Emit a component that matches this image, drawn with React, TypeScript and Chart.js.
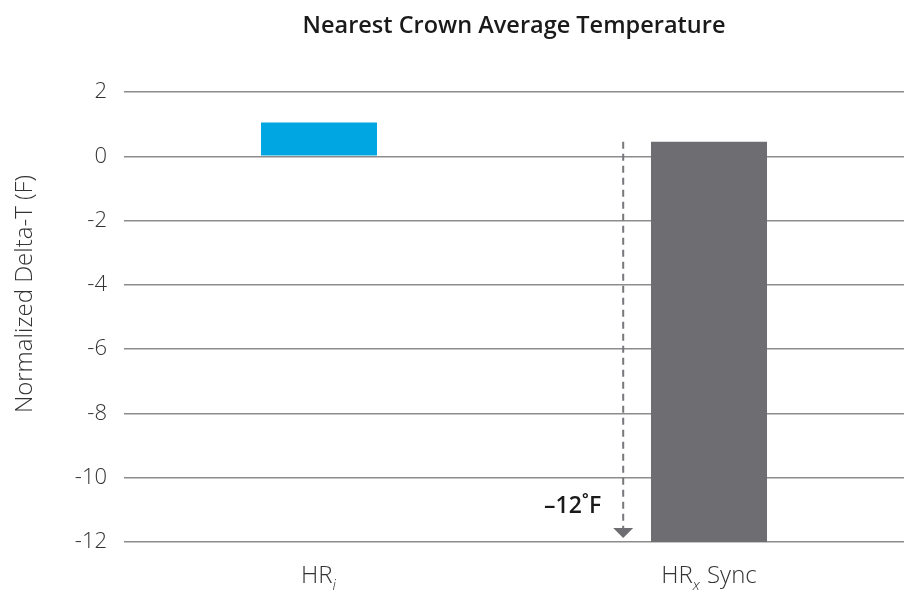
import React, { useEffect, useRef } from "react";
import { Chart, registerables } from "chart.js";

Chart.register(...registerables);

const titleText = "Nearest Crown Average Temperature";
const yAxisTitle = "Normalized Delta-T (F)";
const categoryBase = ["HR", "HR"];
const categorySub = ["i", "x"];
const categorySuffix = ["", " Sync"];
const barLow = [0, -12];
const barHigh = [1.05, 0.45];
const barColors = ["#00a6e2", "#6e6d72"];
const yMin = -12;
const yMax = 2;
const yStep = 2;
const arrowFrom = 0.45;
const arrowTo = -12;
const arrowCategoryPos = 0.78;
const arrowLabel = "\u201312\u02daF";
const arrowLabelValue = -10.9;

const FONT = "'Open Sans', 'Noto Sans', sans-serif";

export default function App() {
  const ref = useRef<HTMLCanvasElement | null>(null);

  useEffect(() => {
    document.body.style.margin = "0";
    const canvas = ref.current;
    if (!canvas) return;

    const overlay = {
      id: "overlay",
      afterDraw(chart: any) {
        const ctx = chart.ctx;
        const x = chart.scales.x;
        const y = chart.scales.y;
        const area = chart.chartArea;
        ctx.save();
        // title
        ctx.fillStyle = "#1a1a1a";
        ctx.font = `600 23.5px ${FONT}`;
        ctx.textAlign = "center";
        ctx.textBaseline = "middle";
        ctx.fillText(titleText, (area.left + area.right) / 2, 26);

        // y axis title
        ctx.save();
        ctx.translate(25, 294);
        ctx.rotate(-Math.PI / 2);
        ctx.fillStyle = "#333";
        ctx.font = `300 24px ${FONT}`;
        ctx.fillText(yAxisTitle, 0, 0);
        ctx.restore();

        // x labels with subscripts
        categoryBase.forEach((base, i) => {
          const cx = x.getPixelForValue(i);
          ctx.font = `300 24px ${FONT}`;
          const wBase = ctx.measureText(base).width;
          ctx.font = `italic 300 15px ${FONT}`;
          const wSub = ctx.measureText(categorySub[i]).width;
          ctx.font = `300 24px ${FONT}`;
          const wSuf = ctx.measureText(categorySuffix[i]).width;
          const total = wBase + wSub + 1 + wSuf;
          let sx = cx - total / 2;
          ctx.textAlign = "left";
          ctx.textBaseline = "alphabetic";
          ctx.fillStyle = "#333";
          ctx.font = `300 24px ${FONT}`;
          ctx.fillText(base, sx, 583);
          sx += wBase;
          ctx.font = `italic 300 15px ${FONT}`;
          ctx.fillText(categorySub[i], sx, 590);
          sx += wSub + 1;
          ctx.font = `300 24px ${FONT}`;
          ctx.fillText(categorySuffix[i], sx, 583);
        });

        // dashed arrow
        const ax = x.getPixelForValue(arrowCategoryPos);
        const y0 = y.getPixelForValue(arrowFrom);
        const y1 = y.getPixelForValue(arrowTo) - 4;
        ctx.strokeStyle = "#77767a";
        ctx.lineWidth = 2;
        ctx.setLineDash([7, 5]);
        ctx.beginPath();
        ctx.moveTo(ax, y0);
        ctx.lineTo(ax, y1 - 10);
        ctx.stroke();
        ctx.setLineDash([]);
        ctx.fillStyle = "#6e6d72";
        ctx.beginPath();
        ctx.moveTo(ax - 10, y1 - 10);
        ctx.lineTo(ax + 10, y1 - 10);
        ctx.lineTo(ax, y1);
        ctx.closePath();
        ctx.fill();

        // arrow label
        ctx.fillStyle = "#1a1a1a";
        ctx.font = `600 23px ${FONT}`;
        ctx.textAlign = "right";
        ctx.textBaseline = "middle";
        ctx.fillText(arrowLabel, ax - 22, y.getPixelForValue(arrowLabelValue));
        ctx.restore();
      },
    };

    const chart = new Chart(canvas, {
      type: "bar",
      data: {
        labels: categoryBase.map((b, i) => b + categorySub[i] + categorySuffix[i]),
        datasets: [
          {
            data: barLow.map((lo, i) => [lo, barHigh[i]]) as any,
            backgroundColor: barColors,
            borderWidth: 0,
            barPercentage: 0.595,
            categoryPercentage: 0.5,
          },
        ],
      },
      options: {
        animation: false,
        responsive: false,
        maintainAspectRatio: false,
        layout: { padding: { top: 92, right: 0, left: 0, bottom: 0 } },
        plugins: {
          legend: { display: false },
          tooltip: { enabled: false },
          title: { display: false },
        },
        scales: {
          x: {
            grid: { display: false, drawTicks: false },
            border: { display: false },
            ticks: { display: false },
            afterFit(scale: any) {
              scale.height = 61;
            },
          },
          y: {
            min: yMin,
            max: yMax,
            ticks: {
              stepSize: yStep,
              color: "#333",
              font: { family: FONT, size: 22, weight: "300" as any },
              padding: 17,
            },
            grid: { color: "#8c8c8c", lineWidth: 1.5, drawTicks: false },
            border: { display: false },
            afterFit(scale: any) {
              scale.width = 124;
            },
          },
        },
      },
      plugins: [overlay],
    });
    return () => chart.destroy();
  }, []);

  return (
    <div style={{ width: 904, height: 603 }}>
      <canvas ref={ref} width={904} height={603} style={{ display: "block" }} />
    </div>
  );
}
